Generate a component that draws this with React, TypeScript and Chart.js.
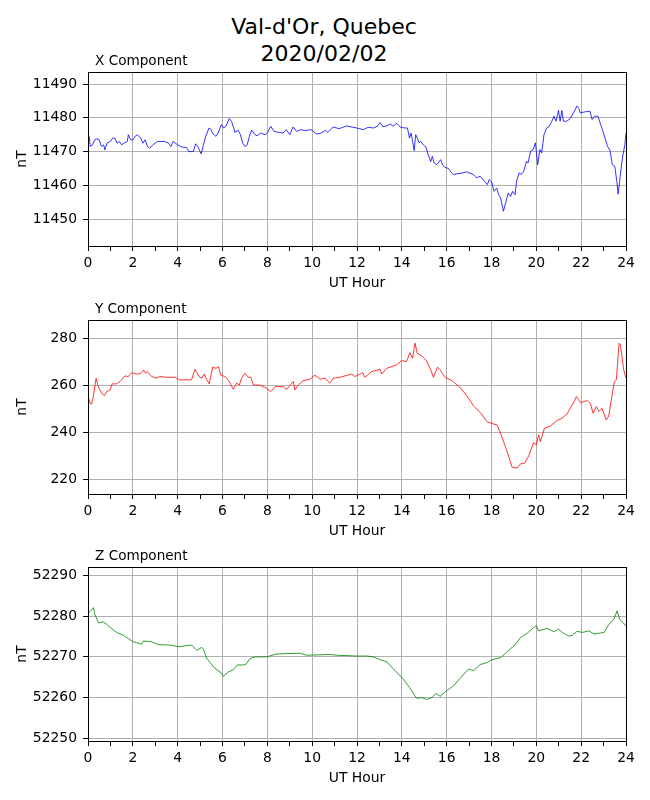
import { useEffect, useRef } from "react";
import { Chart, registerables } from "chart.js";
import type { ChartConfiguration, Plugin } from "chart.js";

Chart.register(...registerables);

const FONT = "'DejaVu Sans', Verdana, sans-serif";
Chart.defaults.font.family = FONT;
Chart.defaults.color = "#000";

// X component (nT) vs UT hour
const HOURS_X = [
  0.0, 0.05, 0.1, 0.2, 0.3, 0.4, 0.5, 0.6, 0.7, 0.75, 0.85, 1.0, 1.1, 1.2, 1.3, 1.4, 1.5, 1.6, 1.75, 1.8,
  1.9, 2.0, 2.1, 2.2, 2.35, 2.45, 2.55, 2.65, 2.75, 2.9, 3.1, 3.4, 3.6, 3.7, 3.8, 4.0, 4.2, 4.4, 4.5, 4.7,
  4.8, 4.9, 5.0, 5.05, 5.15, 5.25, 5.4, 5.5, 5.55, 5.7, 5.8, 5.95, 6.05, 6.15, 6.3, 6.4, 6.5, 6.55, 6.7, 6.8,
  6.9, 7.0, 7.1, 7.2, 7.3, 7.45, 7.55, 7.7, 7.9, 8.0, 8.15, 8.3, 8.5, 8.7, 8.85, 9.0, 9.15, 9.3, 9.5, 9.7,
  9.9, 10.0, 10.2, 10.4, 10.6, 10.7, 10.94, 11.2, 11.54, 11.98, 12.28, 12.5, 12.73, 12.9, 13.03, 13.15, 13.32, 13.5, 13.6, 13.77,
  13.92, 14.1, 14.25, 14.34, 14.41, 14.47, 14.55, 14.62, 14.69, 14.77, 14.84, 14.96, 15.08, 15.18, 15.29, 15.36, 15.44, 15.56, 15.73, 15.82,
  15.93, 16.08, 16.18, 16.3, 16.45, 16.67, 16.89, 17.04, 17.19, 17.34, 17.49, 17.71, 17.81, 17.9, 18.01, 18.11, 18.23, 18.32, 18.41, 18.53,
  18.65, 18.75, 18.85, 18.94, 19.05, 19.12, 19.23, 19.33, 19.44, 19.56, 19.63, 19.74, 19.86, 19.96, 20.06, 20.16, 20.24, 20.34, 20.46, 20.58,
  20.69, 20.79, 20.88, 20.99, 21.06, 21.14, 21.21, 21.36, 21.51, 21.66, 21.81, 21.89, 21.96, 22.19, 22.39, 22.49, 22.6, 22.75, 22.87, 23.02,
  23.17, 23.29, 23.39, 23.5, 23.59, 23.65, 23.74, 23.84, 23.95, 24.0,
];
const VALUES_X = [
  11474, 11474.5, 11471.5, 11472, 11473.5, 11473.8, 11473.5, 11471.5, 11472, 11470.5, 11472.5, 11473, 11474, 11474, 11472.5, 11473, 11472, 11472.5, 11473, 11475,
  11473.5, 11473.5, 11474.5, 11475, 11474, 11472.5, 11473.5, 11471.5, 11471, 11472, 11473, 11473, 11472.5, 11471.5, 11473, 11472, 11471.3, 11471.2, 11470, 11470,
  11472.3, 11471.5, 11470, 11469.3, 11472, 11474.5, 11477, 11476.5, 11475.5, 11474.5, 11475.5, 11478, 11477, 11477.5, 11479.8, 11479, 11477, 11475.7, 11476.3, 11475,
  11472.5, 11471.5, 11472, 11474.5, 11476.4, 11475, 11474.7, 11475.5, 11475, 11475.5, 11477.5, 11476, 11475.7, 11475.5, 11476.5, 11475, 11477.3, 11476, 11476.5, 11476.2,
  11476.5, 11476.3, 11475.2, 11475.5, 11476.3, 11475.7, 11477.3, 11476.8, 11477.6, 11477, 11476.5, 11477.2, 11477, 11477.5, 11478.6, 11477.4, 11477.6, 11478.2, 11477.5, 11478.4,
  11477.3, 11477, 11477, 11474, 11475.5, 11473.5, 11470.3, 11475, 11474, 11472.6, 11473, 11472, 11471.3, 11469, 11467, 11468.6, 11466.6, 11466.1, 11467.6, 11466,
  11465.3, 11465, 11464, 11463.2, 11463.4, 11463.6, 11464, 11463.6, 11463.2, 11462.2, 11462.7, 11461, 11460.2, 11461.7, 11461, 11458.2, 11459.2, 11457.2, 11456.2, 11452.3,
  11455.2, 11457.7, 11456.7, 11458.2, 11457.2, 11461.2, 11463.7, 11463.2, 11464.2, 11467.1, 11466.6, 11470.1, 11470.6, 11472.6, 11466.1, 11470.6, 11469.6, 11475, 11477, 11477.5,
  11479, 11480.5, 11479, 11482.2, 11479, 11482.2, 11479, 11479, 11479.8, 11481.5, 11483.5, 11482.8, 11481.5, 11481.8, 11482, 11479.5, 11480.5, 11480.5, 11478, 11475,
  11471.6, 11470.3, 11466.1, 11465.6, 11461.2, 11457.4, 11462.7, 11468.1, 11472.1, 11475.5,
];

// Y component (nT)
const HOURS_Y = [
  0.0, 0.09, 0.16, 0.24, 0.36, 0.46, 0.61, 0.73, 0.83, 0.98, 1.08, 1.28, 1.43, 1.65, 1.8, 1.95, 2.17, 2.32, 2.47, 2.57,
  2.65, 2.84, 3.06, 3.21, 3.51, 3.88, 4.1, 4.62, 4.77, 4.96, 5.07, 5.19, 5.3, 5.41, 5.56, 5.71, 5.82, 5.92, 6.11, 6.26,
  6.48, 6.63, 6.75, 6.85, 7.0, 7.15, 7.26, 7.38, 7.67, 7.97, 8.15, 8.34, 8.71, 8.86, 9.16, 9.23, 9.38, 9.6, 9.9, 10.12,
  10.35, 10.57, 10.79, 10.94, 11.24, 11.76, 11.91, 12.25, 12.35, 12.65, 13.03, 13.1, 13.32, 13.77, 13.99, 14.21, 14.36, 14.48, 14.59, 14.69,
  14.89, 15.08, 15.26, 15.41, 15.59, 15.71, 15.93, 16.23, 16.6, 16.9, 17.2, 17.5, 17.8, 18.1, 18.25, 18.4, 18.62, 18.77, 18.92, 19.14,
  19.29, 19.47, 19.66, 19.88, 20.0, 20.1, 20.18, 20.36, 20.63, 20.93, 21.15, 21.37, 21.6, 21.79, 21.97, 22.27, 22.41, 22.53, 22.68, 22.79,
  22.93, 23.12, 23.23, 23.38, 23.48, 23.57, 23.69, 23.75, 23.9, 24.0,
];
const VALUES_Y = [
  255.5, 252.3, 252, 255.2, 263, 259.4, 256.6, 255.6, 257.3, 258, 260.6, 260.6, 261.6, 264, 263.7, 265.4, 264.8, 264.8, 266.5, 265.1,
  265.8, 263.7, 263.1, 263.7, 263.4, 263.4, 262.3, 262.3, 266.8, 263.7, 263, 264.8, 262.3, 260.6, 267.7, 267.2, 267.9, 264.4, 263.7, 262.3,
  258.3, 260.9, 260.1, 263, 265.1, 263.4, 263.4, 260.1, 260.1, 258.7, 257.3, 259.4, 259.4, 258.3, 261.6, 258, 260.1, 262, 262.6, 264.3,
  262.6, 263, 260.9, 263, 263.4, 264.8, 263.7, 265.4, 263.4, 265.8, 266.8, 264.8, 267.2, 268.7, 270.5, 270.1, 273.9, 271.5, 277.9, 273.6,
  272.5, 270.8, 267.2, 263.4, 267.7, 266.5, 263.4, 262, 259.1, 255.5, 251.2, 248.4, 244.5, 243.5, 243.1, 239.6, 233.9, 229.6, 225.1, 224.7,
  226.5, 226.8, 229.9, 235.6, 234.6, 238.9, 236, 241.7, 242.7, 245, 246, 247.8, 251.6, 255.2, 252.6, 253.5, 252.3, 248.1, 250.9, 248.8,
  250.2, 245.2, 246.9, 255.9, 261.6, 262.3, 277.9, 277.2, 266.5, 263,
];

// Z component (nT)
const HOURS_Z = [
  0.0, 0.12, 0.24, 0.31, 0.46, 0.68, 0.83, 1.06, 1.28, 1.58, 1.8, 2.02, 2.39, 2.47, 2.84, 3.14, 3.66, 4.03, 4.62, 4.85,
  5.07, 5.15, 5.3, 5.67, 5.89, 6.04, 6.26, 6.48, 6.66, 6.93, 7.05, 7.23, 7.45, 7.97, 8.42, 8.86, 9.45, 9.75, 10.35, 10.8,
  11.09, 11.98, 12.43, 12.73, 13.03, 13.32, 13.7, 14.07, 14.34, 14.52, 14.67, 14.89, 15.11, 15.34, 15.53, 15.71, 16.01, 16.31, 16.6, 16.98,
  17.2, 17.5, 17.8, 18.02, 18.4, 18.69, 19.07, 19.29, 19.59, 19.88, 20.0, 20.1, 20.48, 20.78, 21.0, 21.15, 21.45, 21.6, 21.82, 22.05,
  22.35, 22.57, 23.02, 23.24, 23.46, 23.6, 23.72, 23.87, 24.0,
];
const VALUES_Z = [
  52280.7, 52281.3, 52282.1, 52280.4, 52278.4, 52278.6, 52278, 52276.9, 52276, 52275.3, 52274.5, 52273.7, 52273.1, 52273.9, 52273.7, 52273, 52272.9, 52272.5, 52272.9, 52271.6,
  52272.3, 52271.9, 52269.6, 52267.1, 52266.3, 52265.2, 52266.3, 52266.8, 52268, 52268, 52268.2, 52269.6, 52270, 52270, 52270.7, 52270.8, 52270.9, 52270.4, 52270.5, 52270.6,
  52270.4, 52270.2, 52270.2, 52270, 52269.3, 52268.8, 52266.6, 52264.5, 52262.5, 52260.9, 52259.8, 52260, 52259.5, 52260, 52261, 52260.3, 52261.7, 52262.9, 52264.7, 52267,
  52266.6, 52268.1, 52268.6, 52269.3, 52269.8, 52271.2, 52273.1, 52274.7, 52275.8, 52277.2, 52277.6, 52276.4, 52277, 52276.2, 52276.8, 52276, 52275.1, 52275.3, 52276.3, 52276,
  52276.4, 52275.6, 52276, 52278, 52279.2, 52281.3, 52279.2, 52278.4, 52277.6,
];

type PanelProps = {
  title: string;
  hours: number[];
  values: number[];
  color: string;
  min: number;
  max: number;
  step: number;
  top: number;
};

function Panel({ title, hours, values, color, min, max, step, top }: PanelProps) {
  const canvasRef = useRef<HTMLCanvasElement | null>(null);

  useEffect(() => {
    const ctx = canvasRef.current!.getContext("2d")!;

    // matplotlib-like box round the axes + left title
    const frame: Plugin<"line"> = {
      id: "frame",
      afterDatasetsDraw(chart) {
        const { ctx, chartArea: a } = chart;
        ctx.save();
        ctx.strokeStyle = "#000";
        ctx.lineWidth = 1;
        ctx.strokeRect(Math.round(a.left) + 0.5, Math.round(a.top) + 0.5, Math.round(a.width), Math.round(a.height));
        ctx.fillStyle = "#000";
        ctx.font = `13.6px ${FONT}`;
        ctx.textAlign = "left";
        ctx.textBaseline = "alphabetic";
        ctx.fillText(title, a.left + 7, a.top - 7.5);
        ctx.restore();
      },
    };

    const config: ChartConfiguration<"line", { x: number; y: number }[]> = {
      type: "line",
      data: {
        datasets: [
          {
            data: hours.map((h, i) => ({ x: h, y: values[i] })),
            borderColor: color,
            borderWidth: 0.8,
            pointRadius: 0,
            tension: 0,
            fill: false,
          },
        ],
      },
      options: {
        responsive: false,
        animation: false,
        layout: { padding: { top: 30, right: 24, bottom: 0, left: 0 } },
        plugins: { legend: { display: false }, tooltip: { enabled: false } },
        scales: {
          x: {
            type: "linear",
            min: 0,
            max: 24,
            afterFit: (s: any) => { s.height = 46; },
            ticks: {
              stepSize: 1,
              autoSkip: false,
              maxRotation: 0,
              padding: 4,
              font: { size: 13.9 },
              callback: (v: any) => (Number(v) % 2 === 0 ? String(v) : ""),
            },
            grid: {
              color: (c: any) => (c.tick && c.tick.value % 2 === 0 ? "#b0b0b0" : "rgba(0,0,0,0)"),
              tickColor: "#000",
              tickLength: 5,
              lineWidth: 1,
            },
            border: { display: false },
            title: { display: true, text: "UT Hour", font: { size: 13.9 }, padding: { top: 0, bottom: 0 } },
          },
          y: {
            min,
            max,
            afterFit: (s: any) => { s.width = 88; },
            ticks: {
              stepSize: step,
              includeBounds: false,
              padding: 6,
              font: { size: 13.9 },
              callback: (v: any) => String(v),
            },
            grid: { color: "#b0b0b0", tickColor: "#000", tickLength: 5, lineWidth: 1 },
            border: { display: false },
            title: { display: true, text: "nT", font: { size: 13.9 }, padding: { top: 14, bottom: 0 } },
          },
        },
      },
      plugins: [frame],
    };

    const chart = new Chart(ctx, config);
    return () => chart.destroy();
  }, [title, hours, values, color, min, max, step]);

  return (
    <canvas
      ref={canvasRef}
      width={650}
      height={250}
      style={{ position: "absolute", left: 0, top, width: 650, height: 250 }}
    />
  );
}

export default function App() {
  return (
    <div style={{ position: "absolute", left: 0, top: 0, width: 650, height: 800, background: "#fff", fontFamily: FONT }}>
      <div
        style={{
          position: "absolute",
          left: 0,
          top: 13,
          width: 648,
          textAlign: "center",
          fontSize: 22,
          lineHeight: "27px",
          color: "#000",
        }}
      >
        Val-d'Or, Quebec
        <br />
        2020/02/02
      </div>
      <Panel title="X Component" hours={HOURS_X} values={VALUES_X} color="#0000ff" min={11442} max={11493.6} step={10} top={42} />
      <Panel title="Y Component" hours={HOURS_Y} values={VALUES_Y} color="#ff0000" min={213.7} max={287.8} step={20} top={290} />
      <Panel title="Z Component" hours={HOURS_Z} values={VALUES_Z} color="#008000" min={52249.3} max={52292.1} step={10} top={537} />
    </div>
  );
}
